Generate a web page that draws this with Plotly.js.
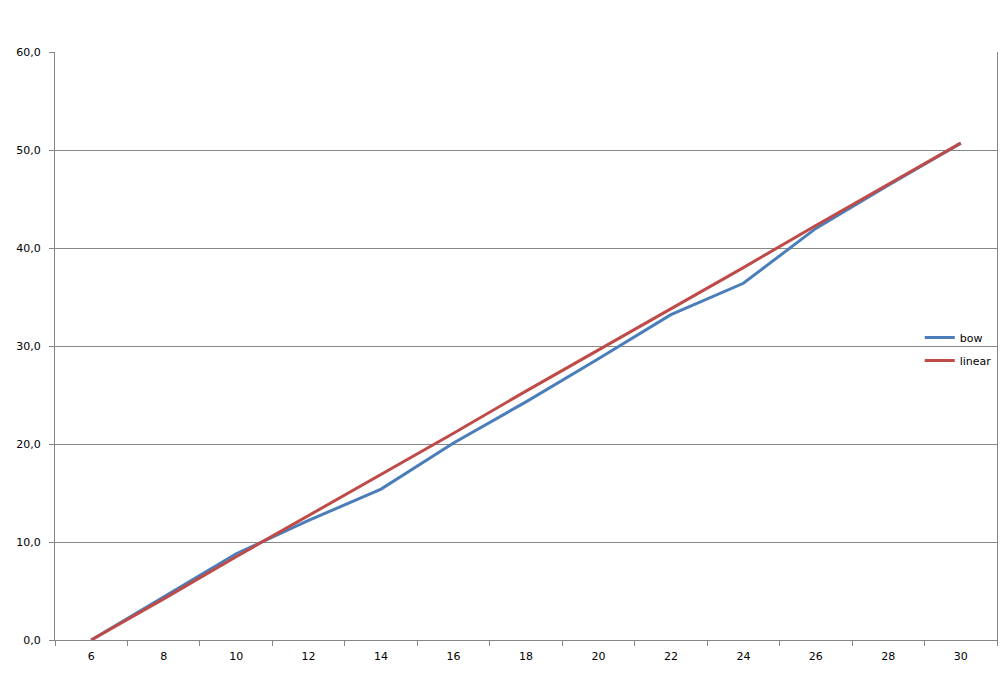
<!DOCTYPE html>
<html>
<head>
<meta charset="utf-8">
<script src="https://cdn.plot.ly/plotly-3.0.1.min.js"></script>
<style>
  html, body { margin: 0; padding: 0; background: #fff; }
  #chart { width: 1000px; height: 685px; }
</style>
</head>
<body>
<div id="chart"></div>
<script>
// categories along the bottom axis
const categories = ['6', '8', '10', '12', '14', '16', '18', '20', '22', '24', '26', '28', '30'];

// values
const bowValues = [0, 4.4, 8.8, 12.2, 15.4, 20.1, 24.3, 28.7, 33.2, 36.4, 42.0, 46.4, 50.7];
const linearValues = [0, 4.2, 8.5, 12.7, 16.9, 21.1, 25.4, 29.6, 33.8, 38.0, 42.3, 46.5, 50.7];

const bow = {
    x: categories,
    y: bowValues,
    name: 'bow',
    legendgroup: 'bow',
    type: 'scatter',
    mode: 'lines',
    line: { color: '#4A7EBB', width: 3 }
};

const linear = {
    x: categories,
    y: linearValues,
    name: 'linear',
    legendgroup: 'linear',
    type: 'scatter',
    mode: 'lines',
    line: { color: '#BE4B48', width: 3 }
};

const axisFont = { family: 'DejaVu Sans, Verdana, sans-serif', size: 11, color: '#000' };

const layout = {
    width: 1000,
    height: 685,
    margin: { l: 55, r: 3, t: 52, b: 45 },
    paper_bgcolor: '#fff',
    plot_bgcolor: '#fff',
    separators: ',.',
    font: axisFont,
    showlegend: true,
    legend: {
        x: 0.918,
        y: 0.495,
        xanchor: 'left',
        yanchor: 'middle',
        bgcolor: 'rgba(0,0,0,0)',
        font: { family: 'DejaVu Sans, Verdana, sans-serif', size: 11, color: '#000' },
        itemwidth: 30,
        traceorder: 'grouped',
        tracegroupgap: 4
    },
    xaxis: {
        type: 'category',
        range: [-0.5, 12.5],
        tickson: 'boundaries',
        ticks: 'outside',
        ticklen: 5,
        tickcolor: '#868686',
        showline: true,
        linecolor: '#868686',
        linewidth: 1,
        showgrid: false,
        zeroline: false,
        tickfont: axisFont,
        ticklabelstandoff: 6,
        fixedrange: true
    },
    yaxis: {
        range: [0, 60],
        dtick: 10,
        tickformat: '.1f',
        ticks: 'outside',
        ticklen: 5,
        tickcolor: '#868686',
        showline: true,
        mirror: true,
        linecolor: '#868686',
        linewidth: 1,
        showgrid: true,
        gridcolor: '#868686',
        gridwidth: 1,
        zeroline: false,
        tickfont: axisFont,
        ticklabelstandoff: 6,
        fixedrange: true
    }
};

Plotly.newPlot('chart', [bow, linear], layout, { displayModeBar: false, staticPlot: true });
</script>
</body>
</html>
